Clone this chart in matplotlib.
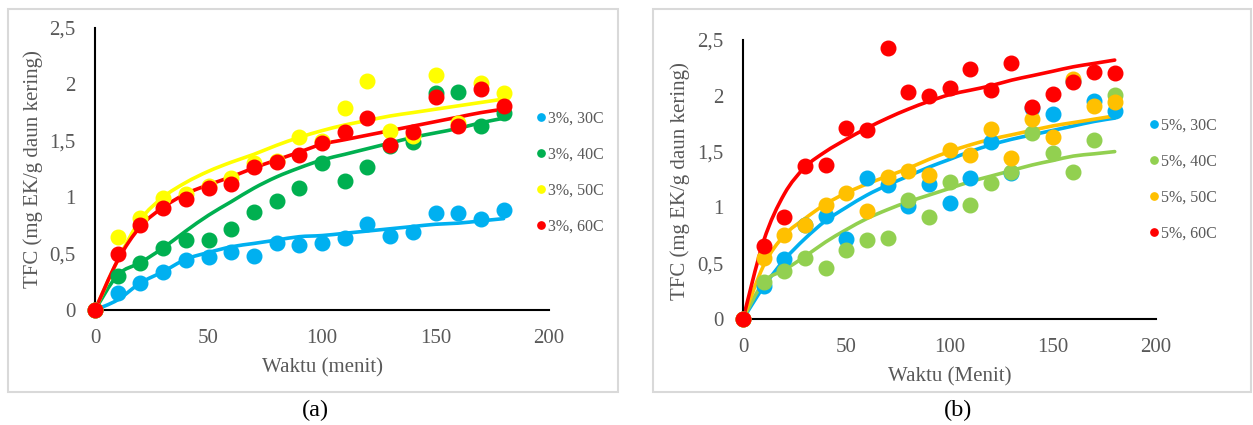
import matplotlib
matplotlib.use("Agg")
import matplotlib.pyplot as plt
from matplotlib.patches import Rectangle, PathPatch
from matplotlib.path import Path
from matplotlib.ticker import FuncFormatter

# waktu ekstraksi (menit)
waktu = [0, 10, 20, 30, 40, 50, 60, 70, 80, 90, 100, 110, 120, 130, 140, 150, 160, 170, 180]

# (a) konsentrasi 3% - data percobaan
a_30 = [0, 0.15, 0.24, 0.34, 0.44, 0.47, 0.51, 0.48, 0.59, 0.58, 0.59, 0.64, 0.76, 0.66, 0.69, 0.86, 0.86, 0.81, 0.89]
a_40 = [0, 0.30, 0.42, 0.55, 0.62, 0.62, 0.72, 0.87, 0.97, 1.08, 1.30, 1.14, 1.27, 1.45, 1.49, 1.92, 1.93, 1.63, 1.75]
a_50 = [0, 0.65, 0.82, 0.99, 1.03, 1.10, 1.17, 1.30, 1.32, 1.53, 1.50, 1.79, 2.03, 1.59, 1.54, 2.08, 1.66, 2.01, 1.92]
a_60 = [0, 0.50, 0.75, 0.90, 0.98, 1.08, 1.12, 1.27, 1.31, 1.37, 1.48, 1.58, 1.70, 1.46, 1.58, 1.89, 1.63, 1.96, 1.81]

# (a) garis model
fa_30 = [0, 0.09, 0.24, 0.34, 0.45, 0.51, 0.56, 0.59, 0.62, 0.65, 0.66, 0.68, 0.70, 0.72, 0.74, 0.76, 0.77, 0.79, 0.81]
fa_40 = [0, 0.31, 0.42, 0.55, 0.70, 0.84, 0.96, 1.08, 1.18, 1.26, 1.33, 1.38, 1.43, 1.48, 1.53, 1.57, 1.61, 1.66, 1.70]
fa_50 = [0, 0.44, 0.80, 1.00, 1.13, 1.23, 1.31, 1.38, 1.46, 1.53, 1.59, 1.64, 1.68, 1.72, 1.75, 1.78, 1.81, 1.84, 1.87]
fa_60 = [0, 0.44, 0.74, 0.91, 1.03, 1.11, 1.18, 1.26, 1.33, 1.40, 1.47, 1.51, 1.55, 1.59, 1.63, 1.67, 1.71, 1.75, 1.78]

# (b) konsentrasi 5% - data percobaan
b_30 = [0, 0.30, 0.54, 0.84, 0.92, 0.72, 1.26, 1.20, 1.01, 1.21, 1.04, 1.26, 1.59, 1.31, 1.89, 1.84, 2.13, 1.95, 1.86]
b_40 = [0, 0.33, 0.43, 0.55, 0.46, 0.62, 0.71, 0.73, 1.07, 0.91, 1.23, 1.02, 1.22, 1.32, 1.67, 1.49, 1.32, 1.60, 2.01]
b_50 = [0, 0.55, 0.75, 0.84, 1.02, 1.13, 0.97, 1.27, 1.33, 1.29, 1.51, 1.47, 1.70, 1.44, 1.79, 1.63, 2.15, 1.91, 1.94]
b_60 = [0, 0.65, 0.91, 1.37, 1.38, 1.71, 1.69, 2.43, 2.03, 2.00, 2.07, 2.24, 2.05, 2.29, 1.90, 2.02, 2.12, 2.21, 2.20]

# (b) garis model
fb_30 = [0, 0.29, 0.53, 0.72, 0.88, 1.00, 1.11, 1.20, 1.28, 1.36, 1.43, 1.50, 1.56, 1.61, 1.65, 1.69, 1.73, 1.77, 1.80]
fb_40 = [0, 0.33, 0.44, 0.56, 0.69, 0.80, 0.90, 0.98, 1.05, 1.11, 1.17, 1.23, 1.28, 1.33, 1.38, 1.42, 1.46, 1.48, 1.50]
fb_50 = [0, 0.48, 0.75, 0.90, 1.03, 1.13, 1.21, 1.28, 1.35, 1.43, 1.50, 1.56, 1.61, 1.65, 1.69, 1.73, 1.76, 1.79, 1.82]
fb_60 = [0, 0.70, 1.12, 1.36, 1.50, 1.61, 1.71, 1.80, 1.88, 1.95, 2.01, 2.05, 2.09, 2.14, 2.18, 2.22, 2.26, 2.29, 2.32]

labels_a = ["3%, 30C", "3%, 40C", "3%, 50C", "3%, 60C"]
labels_b = ["5%, 30C", "5%, 40C", "5%, 50C", "5%, 60C"]
colors_a = ["#00B0F0", "#00B050", "#FFFF00", "#FF0000"]
colors_b = ["#00B0F0", "#92D050", "#FFC000", "#FF0000"]

W, H = 1253, 425
plt.rcParams["font.family"] = ["Liberation Serif", "DejaVu Serif"]
fig = plt.figure(figsize=(W / 100, H / 100), dpi=100)


def fx(px):
    return px / W


def fy(py):
    return 1 - py / H


def frame(x0, y0, x1, y1):
    fig.add_artist(Rectangle((fx(x0), fy(y1)), fx(x1) - fx(x0), fy(y0) - fy(y1),
                             transform=fig.transFigure, fill=False,
                             edgecolor="#D9D9D9", lw=1.5))


def comma(v, pos):
    return ("%g" % v).replace(".", ",")


def smooth_line(ax, xs, ys, color):
    # garis halus ala Excel (bezier lewat tiap titik)
    n = len(xs)
    verts = [(xs[0], ys[0])]
    codes = [Path.MOVETO]
    for i in range(n - 1):
        p0 = max(i - 1, 0)
        p3 = min(i + 2, n - 1)
        c1 = (xs[i] + (xs[i + 1] - xs[p0]) / 6, ys[i] + (ys[i + 1] - ys[p0]) / 6)
        c2 = (xs[i + 1] - (xs[p3] - xs[i]) / 6, ys[i + 1] - (ys[p3] - ys[i]) / 6)
        verts += [c1, c2, (xs[i + 1], ys[i + 1])]
        codes += [Path.CURVE4] * 3
    ax.add_patch(PathPatch(Path(verts, codes), fill=False, edgecolor=color,
                           lw=2.6, zorder=2, capstyle="round", clip_on=False))


def panel(rect, dots, fits, colors, labels, leg_xy, xlabel, xlab_xy, ylab_xy):
    ax = fig.add_axes(rect)
    handles = []
    for fit, c in zip(fits, colors):
        smooth_line(ax, waktu, fit, c)
    for d, c in zip(dots, colors):
        h, = ax.plot(waktu, d, "o", color=c, ms=10.5, mec=c, zorder=3,
                     clip_on=False)
        handles.append(h)
    ax.set_xlim(0, 200)
    ax.set_ylim(0, 2.5)
    ax.set_xticks([0, 50, 100, 150, 200])
    ax.set_yticks([0, 0.5, 1, 1.5, 2, 2.5])
    ax.yaxis.set_major_formatter(FuncFormatter(comma))
    ax.tick_params(length=0, labelsize=15, labelcolor="#595959", pad=14)
    for s in ["top", "right"]:
        ax.spines[s].set_visible(False)
    for s in ["left", "bottom"]:
        ax.spines[s].set_linewidth(1.5)
        ax.spines[s].set_color("black")
    ax.legend(handles, labels, loc="center left", bbox_to_anchor=leg_xy,
              bbox_transform=fig.transFigure, frameon=False, fontsize=11.5,
              handlelength=0.6, handletextpad=0.15, labelspacing=1.25,
              markerscale=0.5, borderpad=0, borderaxespad=0,
              labelcolor="#595959")
    fig.text(fx(xlab_xy[0]), fy(xlab_xy[1]), xlabel, ha="center", va="center",
             fontsize=15, color="#595959")
    fig.text(fx(ylab_xy[0]), fy(ylab_xy[1]), "TFC (mg EK/g daun kering)",
             ha="center", va="center", rotation=90, fontsize=15, color="#595959")
    return ax


frame(8, 9, 618, 392)
frame(653, 9, 1251, 392)

panel([fx(95), fy(310), fx(549) - fx(95), fy(28) - fy(310)],
      [a_30, a_40, a_50, a_60], [fa_30, fa_40, fa_50, fa_60],
      colors_a, labels_a, (fx(536), fy(173)), "Waktu (menit)",
      (322, 368), (33, 169))

panel([fx(743), fy(319), fx(1156) - fx(743), fy(40) - fy(319)],
      [b_30, b_40, b_50, b_60], [fb_30, fb_40, fb_50, fb_60],
      colors_b, labels_b, (fx(1149), fy(180)), "Waktu (Menit)",
      (950, 377), (680, 181))

fig.text(fx(315), fy(410), "(a)", ha="center", va="center", fontsize=17.5)
fig.text(fx(958), fy(410), "(b)", ha="center", va="center", fontsize=17.5)

fig.savefig("out.png", dpi=100)
